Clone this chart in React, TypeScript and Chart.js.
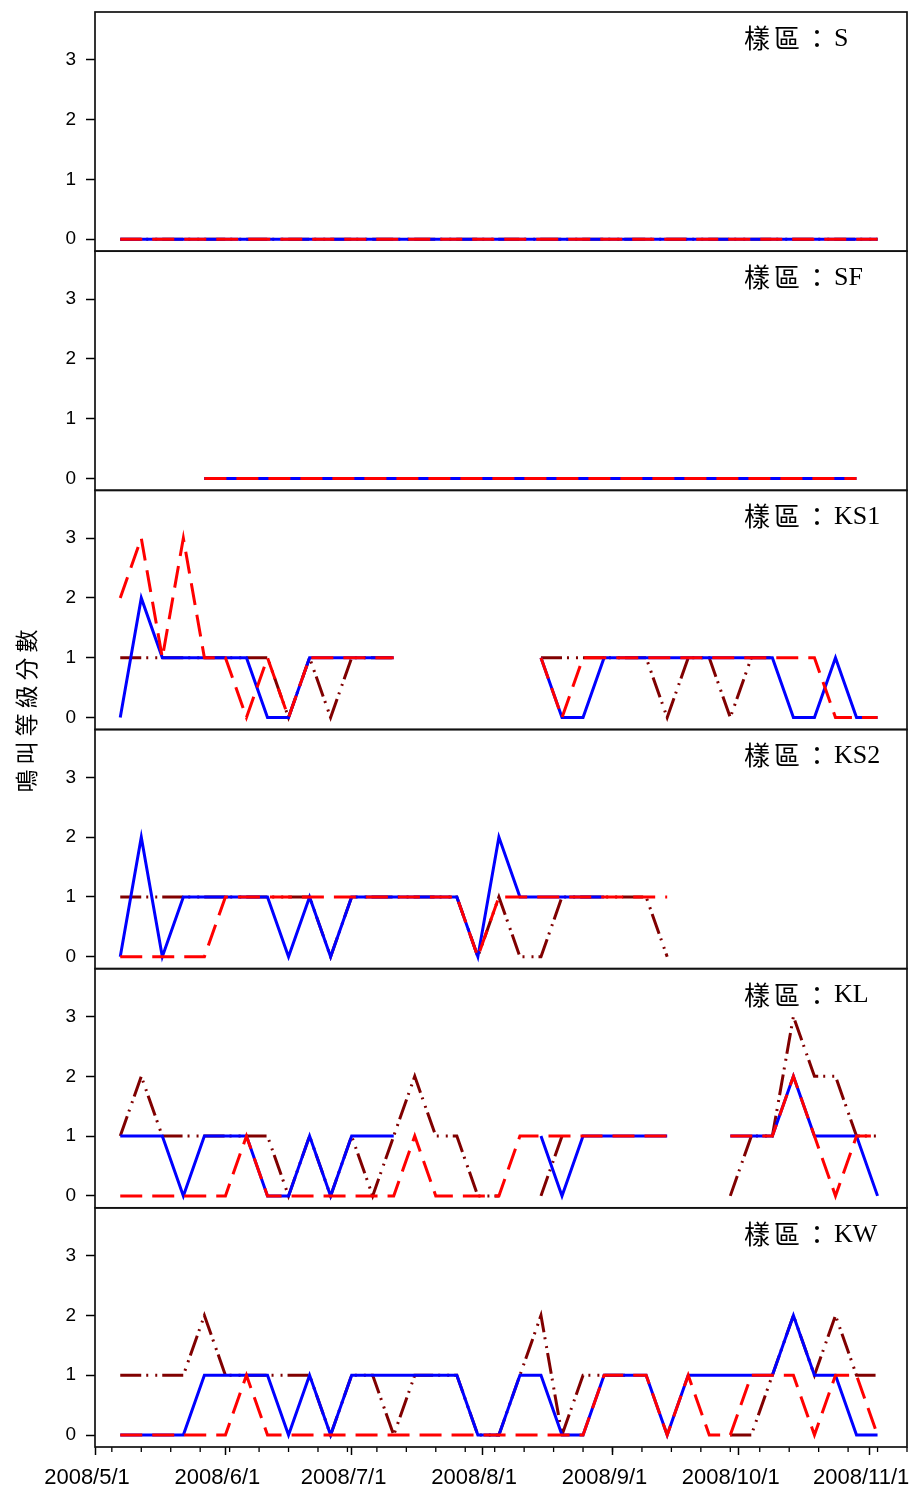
import React, { useEffect, useRef } from 'react';
import { Chart, registerables } from 'chart.js';

Chart.register(...registerables);

const _ = null;

// Sampling dates (every survey visit)
const sampleDates = [
  '2008/5/7', '2008/5/12', '2008/5/17', '2008/5/22', '2008/5/27',
  '2008/6/1', '2008/6/6', '2008/6/11', '2008/6/16', '2008/6/21', '2008/6/26',
  '2008/7/1', '2008/7/6', '2008/7/11', '2008/7/16', '2008/7/21', '2008/7/26', '2008/7/31',
  '2008/8/5', '2008/8/10', '2008/8/15', '2008/8/20', '2008/8/25', '2008/8/30',
  '2008/9/4', '2008/9/9', '2008/9/14', '2008/9/19', '2008/9/24', '2008/9/29',
  '2008/10/4', '2008/10/9', '2008/10/14', '2008/10/19', '2008/10/24', '2008/10/29',
  '2008/11/3',
];

const axisStartDate = '2008/5/1';
const axisEndDate = '2008/11/10';
const firstMinorTickDate = '2008/5/5';
const monthTickLabels = ['2008/5/1', '2008/6/1', '2008/7/1', '2008/8/1', '2008/9/1', '2008/10/1', '2008/11/1'];
const yTickValues = [0, 1, 2, 3];
const yMin = -0.2;
const yMax = 3.8;

const panelNames = ['S', 'SF', 'KS1', 'KS2', 'KL', 'KW'];
const yTitle = '鳴叫等級分數';
const labelPrefix = '樣區：';

// Panel S
const sBlue = [0,0,0,0,0,0,0,0,0,0, 0,0,0,0,0,0,0,0,0,0, 0,0,0,0,0,0,0,0,0,0, 0,0,0,0,0,0,0];
const sRed  = [0,0,0,0,0,0,0,0,0,0, 0,0,0,0,0,0,0,0,0,0, 0,0,0,0,0,0,0,0,0,0, 0,0,0,0,0,0,0];
const sDark = [0,0,0,0,0,0,0,0,0,0, 0,0,0,0,0,0,0,0,0,0, 0,0,0,0,0,0,0,0,0,0, 0,0,0,0,0,0,0];

// Panel SF
const sfBlue = [_,_,_,_,0,0,0,0,0,0, 0,0,0,0,0,0,0,0,0,0, 0,0,0,0,0,0,0,0,0,0, 0,0,0,0,0,0,_];
const sfRed  = [_,_,_,_,0,0,0,0,0,0, 0,0,0,0,0,0,0,0,0,0, 0,0,0,0,0,0,0,0,0,0, 0,0,0,0,0,0,_];
const sfDark = [_,_,_,_,0,0,0,0,0,0, 0,0,0,0,0,0,0,0,0,0, 0,0,0,0,0,0,0,0,0,0, 0,0,0,0,0,0,_];

// Panel KS1
const ks1Blue = [0,2,1,1,1,1,1,0,0,1, 1,1,1,1,_,_,_,_,_,_, 1,0,0,1,1,1,1,1,1,1, 1,1,0,0,1,0,0];
const ks1Red  = [2,3,1,3,1,1,0,1,0,1, 1,1,1,1,_,_,_,_,_,_, 1,0,1,1,1,1,1,1,1,1, 1,1,1,1,0,0,0];
const ks1Dark = [1,1,1,1,1,1,1,1,0,1, 0,1,1,1,_,_,_,_,_,_, 1,1,1,1,1,1,0,1,1,0, 1,1,_,_,_,_,_];

// Panel KS2
const ks2Blue = [0,2,0,1,1,1,1,1,0,1, 0,1,1,1,1,1,1,0,2,1, 1,1,1,1,_,_,_,_,_,_, _,_,_,_,_,_,_];
const ks2Red  = [0,0,0,0,0,1,1,1,1,1, 1,1,1,1,1,1,1,0,1,1, 1,1,1,1,1,1,1,_,_,_, _,_,_,_,_,_,_];
const ks2Dark = [1,1,1,1,1,1,1,1,1,1, 0,1,1,1,1,1,1,0,1,0, 0,1,1,1,1,1,0,_,_,_, _,_,_,_,_,_,_];

// Panel KL
const klBlue = [1,1,1,0,1,1,1,0,0,1, 0,1,1,1,_,_,_,_,_,_, 1,0,1,1,1,1,1,_,_,1, 1,1,2,1,1,1,0];
const klRed  = [0,0,0,0,0,0,1,0,0,0, 0,0,0,0,1,0,0,0,0,1, 1,1,1,1,1,1,1,_,_,1, 1,1,2,1,0,1,1];
const klDark = [1,2,1,1,1,1,1,1,0,1, 0,1,0,1,2,1,1,0,0,_, 0,1,_,_,_,_,_,_,_,0, 1,1,3,2,2,1,1];

// Panel KW
const kwBlue = [0,0,0,0,1,1,1,1,0,1, 0,1,1,1,1,1,1,0,0,1, 1,0,0,1,1,1,0,1,1,1, 1,1,2,1,1,0,0];
const kwRed  = [0,0,0,0,0,0,1,0,0,0, 0,0,0,0,0,0,0,0,0,0, 0,0,0,1,1,1,0,1,0,0, 1,1,1,0,1,1,0];
const kwDark = [1,1,1,1,2,1,1,1,1,1, 0,1,1,0,1,1,1,0,0,1, 2,0,1,1,1,_,_,_,_,0, 0,1,2,1,2,1,1];

const panelBlue = [sBlue, sfBlue, ks1Blue, ks2Blue, klBlue, kwBlue];
const panelRed = [sRed, sfRed, ks1Red, ks2Red, klRed, kwRed];
const panelDark = [sDark, sfDark, ks1Dark, ks2Dark, klDark, kwDark];

const BLUE = '#0000FF';
const RED = '#FF0000';
const DARK = '#800000';
const SANS = '"Liberation Sans", Arial, sans-serif';
const CJK = '"Noto Sans CJK TC", "Noto Sans CJK SC", sans-serif';

const DAY = 86400000;
function toDay(s: string): number {
  const [y, m, d] = s.split('/').map(Number);
  const [y0, m0, d0] = axisStartDate.split('/').map(Number);
  return Math.round((Date.UTC(y, m - 1, d) - Date.UTC(y0, m0 - 1, d0)) / DAY);
}

const sampleDays = sampleDates.map(toDay);
const monthDays = monthTickLabels.map(toDay);
const endDay = toDay(axisEndDate);

export default function App() {
  const ref = useRef<HTMLCanvasElement | null>(null);

  useEffect(() => {
    document.body.style.margin = '0';
    document.body.style.overflow = 'hidden';
    const canvas = ref.current;
    if (!canvas) return;

    const datasets: any[] = [];
    panelNames.forEach((_name, p) => {
      const yID = 'y' + p;
      const mk = (arr: (number | null)[], color: string, dash: number[]) => ({
        data: sampleDays.map((d, i) => ({ x: d, y: arr[i] })),
        borderColor: color,
        backgroundColor: color,
        borderWidth: 3,
        borderDash: dash,
        borderCapStyle: 'butt',
        borderJoinStyle: 'miter',
        pointRadius: 0,
        tension: 0,
        spanGaps: false,
        fill: false,
        yAxisID: yID,
        xAxisID: 'x',
      });
      datasets.push(mk(panelRed[p], RED, [22, 10]));
      datasets.push(mk(panelBlue[p], BLUE, []));
      datasets.push(mk(panelDark[p], DARK, [21, 5, 2, 7, 2, 5]));
    });

    const scales: any = {
      x: {
        type: 'linear',
        position: 'bottom',
        min: 0,
        max: endDay,
        afterBuildTicks: (s: any) => {
          s.ticks = monthDays.map((v) => ({ value: v }));
        },
        afterFit: (s: any) => {
          s.height = 46;
          s.paddingLeft = 0;
          s.paddingRight = 0;
        },
        grid: {
          display: true,
          drawOnChartArea: false,
          drawTicks: true,
          tickLength: 8,
          tickColor: '#000',
          tickWidth: 1.5,
        },
        border: { display: false },
        ticks: {
          autoSkip: false,
          maxRotation: 0,
          minRotation: 0,
          color: '#000',
          padding: 10,
          labelOffset: -8,
          font: { family: SANS, size: 22 },
          callback: (_v: any, i: number) => monthTickLabels[i],
        },
      },
    };
    // define bottom panel first so that the top panel is stacked at the top
    for (let p = panelNames.length - 1; p >= 0; p--) {
      scales['y' + p] = {
        type: 'linear',
        position: 'left',
        stack: 'panels',
        stackWeight: 1,
        weight: panelNames.length - p,
        min: yMin,
        max: yMax,
        afterBuildTicks: (s: any) => {
          s.ticks = yTickValues.map((v) => ({ value: v }));
        },
        afterFit: (s: any) => {
          s.width = 95;
          s.paddingTop = 0;
          s.paddingBottom = 0;
        },
        grid: {
          display: true,
          drawOnChartArea: false,
          drawTicks: true,
          tickLength: 9,
          tickColor: '#000',
          tickWidth: 1.5,
        },
        border: { display: false },
        ticks: {
          color: '#000',
          padding: 10,
          font: { family: SANS, size: 19 },
        },
      };
    }

    const decorations = {
      id: 'decorations',
      afterDraw(chart: any) {
        const ctx = chart.ctx as CanvasRenderingContext2D;
        const area = chart.chartArea;
        const xs = chart.scales.x;
        ctx.save();
        // minor weekly ticks
        ctx.strokeStyle = '#000';
        ctx.lineWidth = 1.3;
        const startMinor = toDay(firstMinorTickDate);
        ctx.beginPath();
        for (let d = startMinor; d <= endDay; d += 7) {
          const px = xs.getPixelForValue(d);
          ctx.moveTo(px, area.bottom);
          ctx.lineTo(px, area.bottom + 5);
        }
        ctx.stroke();
        // panel frames
        ctx.strokeStyle = '#111';
        ctx.lineWidth = 1.7;
        panelNames.forEach((_n, p) => {
          const s = chart.scales['y' + p];
          ctx.strokeRect(area.left, s.top, area.right - area.left, s.bottom - s.top);
        });
        // panel labels
        panelNames.forEach((name, p) => {
          const s = chart.scales['y' + p];
          const x = area.right - 163;
          const y = s.top + 26;
          ctx.fillStyle = '#000';
          ctx.textBaseline = 'middle';
          ctx.textAlign = 'left';
          ctx.font = '26px ' + CJK;
          (ctx as any).letterSpacing = '4px';
          ctx.fillText(labelPrefix, x, y);
          const w = ctx.measureText(labelPrefix).width;
          (ctx as any).letterSpacing = '0px';
          ctx.font = '26px "Liberation Serif", "Times New Roman", serif';
          ctx.fillText(name, x + w, y + 1);
        });
        // y title
        ctx.save();
        ctx.translate(26, (area.top + area.bottom) / 2 - 21);
        ctx.rotate(-Math.PI / 2);
        ctx.font = '23px ' + CJK;
        (ctx as any).letterSpacing = '5px';
        ctx.textAlign = 'center';
        ctx.textBaseline = 'middle';
        ctx.fillStyle = '#000';
        ctx.fillText(yTitle, 0, 0);
        ctx.restore();
        ctx.restore();
      },
    };

    const chart = new Chart(canvas, {
      type: 'line',
      data: { datasets },
      options: {
        responsive: false,
        animation: false,
        layout: { padding: { top: 12, right: 7, bottom: 0, left: 0 } },
        plugins: {
          legend: { display: false },
          tooltip: { enabled: false },
          title: { display: false },
        },
        scales,
      } as any,
      plugins: [decorations],
    });

    return () => {
      chart.destroy();
    };
  }, []);

  return (
    <div style={{ width: 914, height: 1493, position: 'relative', background: '#fff' }}>
      <canvas ref={ref} width={914} height={1493} style={{ display: 'block', width: 914, height: 1493 }} />
    </div>
  );
}
